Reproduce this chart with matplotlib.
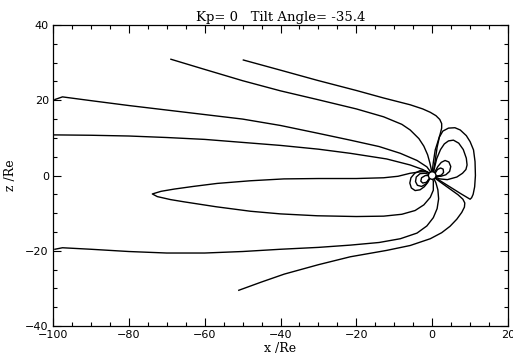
import matplotlib
matplotlib.use("Agg")
import matplotlib.pyplot as plt
from matplotlib.ticker import MultipleLocator

# field lines, x and z in Earth radii
line1_x = [-68.9, -60, -50, -40, -30.3, -20, -12.8, -8, -5.8, -3.5, -2.2, -1.2, -0.6, -0.1]
line1_z = [30.9, 28.2, 25.2, 22.5, 20.2, 17.7, 15.6, 13.6, 12.1, 9.8, 7.8, 5.5, 3.3, 1.0]

line2_x = [-49.8, -40, -30.3, -20, -12.8, -5.8, -2.5, -0.5, 1.0, 2.0, 2.5, 2.5, 2.1, 1.5, 0.8, 0.3, 0.0]
line2_z = [30.7, 28.0, 25.3, 22.6, 20.6, 18.8, 17.7, 16.8, 15.9, 14.9, 13.8, 12.6, 11.0, 9.0, 6.8, 3.5, 1.0]

line3_x = [-99.5, -97.5, -90, -80, -70, -60, -50, -40, -30, -21.6, -14, -8.4, -4, -1.4, -0.3]
line3_z = [20.2, 20.9, 19.9, 18.6, 17.4, 16.2, 15.0, 13.3, 11.2, 9.4, 7.7, 5.9, 4.0, 2.3, 0.8]

line4_x = [-100, -90, -80, -70, -60, -50, -40, -30, -21.6, -12, -5.8, -2.5, -0.5]
line4_z = [10.8, 10.7, 10.5, 10.1, 9.6, 8.8, 8.0, 7.0, 5.9, 4.4, 2.8, 1.6, 0.5]

loop_x = [-0.5, -1.4, -3, -5.8, -9, -12.8, -20, -30, -39.1, -48, -56.7, -63, -68, -71.5, -73.8,
          -72.5, -69, -65.4, -57, -47.9, -40, -30.3, -20, -12.8, -8, -4.5, -2.2, -0.5, 0.3, 0.3, 0.0]
loop_z = [0.5, 1.0, 1.0, 0.6, -0.2, -0.6, -0.8, -0.8, -0.9, -1.4, -2.1, -2.9, -3.6, -4.2, -4.9,
          -5.6, -6.4, -7.0, -8.3, -9.5, -10.2, -10.7, -10.9, -10.8, -10.3, -9.3, -7.8, -5.8, -3.9, -1.5, -0.6]

line6_x = [-99.5, -97.5, -90, -80, -70, -60, -50, -40, -30, -21.6, -14, -8.4, -4, -1.4,
           0.3, 1.3, 1.7, 1.5, 1.0, 0.4]
line6_z = [-19.6, -19.2, -19.6, -20.2, -20.6, -20.6, -20.2, -19.6, -19.1, -18.5, -17.8, -16.8,
           -15.3, -13.4, -11.2, -8.8, -6.2, -3.8, -2.0, -0.7]

line7_x = [-51, -45, -39, -30, -21.6, -12, -5.8, -0.5, 2.5, 4.7, 6.5, 7.8, 8.5, 8.6, 8.1, 6.8, 5, 2.5, 0.6]
line7_z = [-30.5, -28.3, -26.2, -23.7, -21.6, -19.9, -18.6, -16.8, -15.2, -13.5, -11.6, -9.8,
           -8.4, -7.3, -6.3, -5.1, -3.8, -2.0, -0.6]

day1_x = [0.3, 0.8, 1.3, 1.9, 2.8, 4.3, 6, 7.4, 9, 10, 10.9, 11.3, 11.4, 11.2, 10.8, 10.4, 10.0,
          7.5, 5.6, 2.1, 0.6]
day1_z = [0.8, 4.0, 7.5, 10.2, 11.8, 12.6, 12.7, 12.1, 10.6, 9.0, 6.8, 3.7, 0.0, -3.0, -5.0,
          -5.9, -6.3, -4.8, -3.6, -1.4, -0.4]

day2_x = [0.3, 1.2, 2.2, 3.2, 4.3, 5.6, 7, 8.2, 9, 9.2, 8.9, 8.0, 6.5, 4, 2, 0.6]
day2_z = [0.8, 4.5, 6.9, 8.4, 9.2, 9.4, 8.6, 6.9, 4.6, 2.8, 1.6, 0.6, -0.4, -1.1, -0.9, -0.3]

day3_x = [0.5, 1.5, 2.4, 3.4, 4.4, 4.9, 4.6, 3.6, 2.3, 1.2, 0.6]
day3_z = [0.6, 2.4, 3.5, 4.0, 3.6, 2.4, 1.1, 0.2, -0.2, -0.2, -0.2]

day4_x = [0.7, 1.4, 2.2, 2.9, 3.0, 2.4, 1.5, 0.8]
day4_z = [0.5, 1.6, 2.0, 1.7, 0.8, 0.1, -0.1, -0.1]

night1_x = [-0.7, -1.8, -3.2, -4.6, -5.6, -5.9, -5.5, -4.5, -3.2, -2.1, -1.2, -0.6]
night1_z = [0.4, 1.2, 1.3, 0.6, -0.6, -2.0, -3.3, -4.0, -3.8, -3.0, -1.9, -0.8]

night2_x = [-0.7, -1.8, -3.2, -4.2, -4.4, -3.9, -2.8, -1.7, -0.9]
night2_z = [0.2, 0.6, 0.5, -0.4, -1.6, -2.6, -2.9, -2.3, -1.0]

night3_x = [-0.8, -1.8, -2.8, -3.0, -2.5, -1.5, -0.8]
night3_z = [0.0, 0.0, -0.6, -1.5, -2.0, -1.8, -0.9]

lines = [(line1_x, line1_z), (line2_x, line2_z), (line3_x, line3_z), (line4_x, line4_z),
         (loop_x, loop_z), (line6_x, line6_z), (line7_x, line7_z),
         (day1_x, day1_z), (day2_x, day2_z), (day3_x, day3_z), (day4_x, day4_z),
         (night1_x, night1_z), (night2_x, night2_z), (night3_x, night3_z)]

kp = 0
tilt = -35.4

fig = plt.figure(figsize=(5.13, 3.62), dpi=100)
ax = fig.add_axes([0.1033, 0.0994, 0.887, 0.8315])

for xs, zs in lines:
    ax.plot(xs, zs, color="black", lw=1.0, solid_joinstyle="round")

earth = plt.Circle((0, 0), 1.0, facecolor="white", edgecolor="black", lw=1.0, zorder=5)
ax.add_patch(earth)

ax.set_xlim(-100, 20)
ax.set_ylim(-40, 40)
ax.xaxis.set_major_locator(MultipleLocator(20))
ax.xaxis.set_minor_locator(MultipleLocator(5))
ax.yaxis.set_major_locator(MultipleLocator(20))
ax.yaxis.set_minor_locator(MultipleLocator(5))
ax.tick_params(which="both", direction="in", top=True, right=True, labelsize=8, pad=3)
ax.tick_params(which="major", length=6, width=0.8)
ax.tick_params(which="minor", length=3, width=0.8)
for s in ax.spines.values():
    s.set_linewidth(0.9)

ax.set_title("Kp= %d   Tilt Angle= %.1f" % (kp, tilt), family="DejaVu Serif", fontsize=9.5, pad=3)
ax.set_xlabel("x /Re", family="DejaVu Serif", fontsize=9, labelpad=1)
ax.set_ylabel("z /Re", family="DejaVu Serif", fontsize=9, labelpad=6)

fig.savefig("out.png", dpi=100)
